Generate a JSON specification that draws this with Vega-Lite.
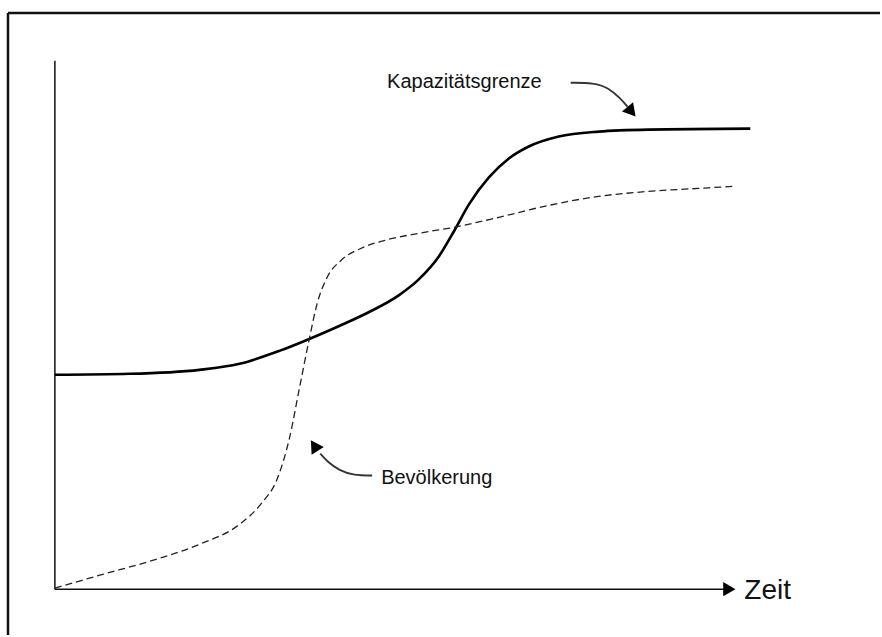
{
  "$schema": "https://vega.github.io/schema/vega-lite/v6.json",
  "autosize": {"type": "fit", "contains": "padding"},
  "width": 882,
  "height": 637,
  "padding": 0,
  "background": "white",
  "config": {"view": {"stroke": null}},
  "datasets": {
    "kurven": [
      {"reihe": "Kapazitätsgrenze", "zeit": 0, "wert": 215},
      {"reihe": "Kapazitätsgrenze", "zeit": 75, "wert": 216},
      {"reihe": "Kapazitätsgrenze", "zeit": 145, "wert": 220},
      {"reihe": "Kapazitätsgrenze", "zeit": 185, "wert": 226},
      {"reihe": "Kapazitätsgrenze", "zeit": 225, "wert": 239},
      {"reihe": "Kapazitätsgrenze", "zeit": 255, "wert": 251},
      {"reihe": "Kapazitätsgrenze", "zeit": 285, "wert": 264},
      {"reihe": "Kapazitätsgrenze", "zeit": 315, "wert": 278},
      {"reihe": "Kapazitätsgrenze", "zeit": 345, "wert": 295},
      {"reihe": "Kapazitätsgrenze", "zeit": 365, "wert": 311},
      {"reihe": "Kapazitätsgrenze", "zeit": 385, "wert": 334},
      {"reihe": "Kapazitätsgrenze", "zeit": 400, "wert": 359},
      {"reihe": "Kapazitätsgrenze", "zeit": 415, "wert": 386},
      {"reihe": "Kapazitätsgrenze", "zeit": 435, "wert": 413},
      {"reihe": "Kapazitätsgrenze", "zeit": 455, "wert": 432},
      {"reihe": "Kapazitätsgrenze", "zeit": 475, "wert": 444},
      {"reihe": "Kapazitätsgrenze", "zeit": 505, "wert": 454},
      {"reihe": "Kapazitätsgrenze", "zeit": 545, "wert": 459},
      {"reihe": "Kapazitätsgrenze", "zeit": 595, "wert": 461},
      {"reihe": "Kapazitätsgrenze", "zeit": 697, "wert": 462},
      {"reihe": "Bevölkerung", "zeit": 0, "wert": 1},
      {"reihe": "Bevölkerung", "zeit": 45, "wert": 14},
      {"reihe": "Bevölkerung", "zeit": 95, "wert": 28},
      {"reihe": "Bevölkerung", "zeit": 145, "wert": 45},
      {"reihe": "Bevölkerung", "zeit": 185, "wert": 65},
      {"reihe": "Bevölkerung", "zeit": 207, "wert": 86},
      {"reihe": "Bevölkerung", "zeit": 223, "wert": 111},
      {"reihe": "Bevölkerung", "zeit": 235, "wert": 151},
      {"reihe": "Bevölkerung", "zeit": 245, "wert": 201},
      {"reihe": "Bevölkerung", "zeit": 255, "wert": 251},
      {"reihe": "Bevölkerung", "zeit": 263, "wert": 287},
      {"reihe": "Bevölkerung", "zeit": 273, "wert": 313},
      {"reihe": "Bevölkerung", "zeit": 287, "wert": 330},
      {"reihe": "Bevölkerung", "zeit": 307, "wert": 342},
      {"reihe": "Bevölkerung", "zeit": 335, "wert": 351},
      {"reihe": "Bevölkerung", "zeit": 365, "wert": 357},
      {"reihe": "Bevölkerung", "zeit": 400, "wert": 363},
      {"reihe": "Bevölkerung", "zeit": 445, "wert": 373},
      {"reihe": "Bevölkerung", "zeit": 495, "wert": 385},
      {"reihe": "Bevölkerung", "zeit": 545, "wert": 394},
      {"reihe": "Bevölkerung", "zeit": 595, "wert": 399},
      {"reihe": "Bevölkerung", "zeit": 645, "wert": 402},
      {"reihe": "Bevölkerung", "zeit": 679, "wert": 404}
    ],
    "pfeile": [
      {"pfeil": "K", "ord": 1, "zeit": 517, "wert": 508},
      {"pfeil": "K", "ord": 2, "zeit": 540, "wert": 508},
      {"pfeil": "K", "ord": 3, "zeit": 555, "wert": 503},
      {"pfeil": "K", "ord": 4, "zeit": 567, "wert": 492},
      {"pfeil": "K", "ord": 5, "zeit": 574, "wert": 484},
      {"pfeil": "B", "ord": 1, "zeit": 318, "wert": 114},
      {"pfeil": "B", "ord": 2, "zeit": 300, "wert": 114},
      {"pfeil": "B", "ord": 3, "zeit": 285, "wert": 119},
      {"pfeil": "B", "ord": 4, "zeit": 273, "wert": 128},
      {"pfeil": "B", "ord": 5, "zeit": 266, "wert": 136}
    ],
    "spitzen": [
      {"zeit": 578, "wert": 479, "winkel": 140, "groesse": 210},
      {"zeit": 260, "wert": 144, "winkel": -33, "groesse": 210},
      {"zeit": 676, "wert": 0, "winkel": 90, "groesse": 200}
    ],
    "texte": [
      {"text": "Kapazitätsgrenze", "zeit": 333, "wert": 509, "groesse": 20},
      {"text": "Bevölkerung", "zeit": 327, "wert": 111, "groesse": 20},
      {"text": "Zeit", "zeit": 691, "wert": -2, "groesse": 28}
    ],
    "linien": [
      {"zeit": 0, "zeit2": 0, "wert": 0, "wert2": 530, "breite": 1.5},
      {"zeit": 0, "zeit2": 670, "wert": 0, "wert2": 0, "breite": 1.5},
      {"zeit": -47, "zeit2": 827, "wert": 578, "wert2": 578, "breite": 2.5},
      {"zeit": -47, "zeit2": -47, "wert": -46, "wert2": 578, "breite": 2.5}
    ]
  },
  "layer": [
    {
      "data": {"name": "linien"},
      "mark": {"type": "rule", "color": "#111111"},
      "encoding": {
        "x": {"field": "zeit", "type": "quantitative", "scale": {"domain": [-55, 827], "nice": false, "zero": false}, "axis": null},
        "x2": {"field": "zeit2"},
        "y": {"field": "wert", "type": "quantitative", "scale": {"domain": [-46, 591], "nice": false, "zero": false}, "axis": null},
        "y2": {"field": "wert2"},
        "strokeWidth": {"field": "breite", "type": "quantitative", "scale": null}
      }
    },
    {
      "data": {"name": "kurven"},
      "transform": [{"filter": "datum.reihe === 'Kapazitätsgrenze'"}],
      "mark": {"type": "line", "color": "#000000", "strokeWidth": 2.6, "interpolate": "monotone"},
      "encoding": {
        "x": {"field": "zeit", "type": "quantitative", "scale": {"domain": [-55, 827], "nice": false, "zero": false}, "axis": null},
        "y": {"field": "wert", "type": "quantitative", "scale": {"domain": [-46, 591], "nice": false, "zero": false}, "axis": null}
      }
    },
    {
      "data": {"name": "kurven"},
      "transform": [{"filter": "datum.reihe === 'Bevölkerung'"}],
      "mark": {"type": "line", "color": "#222222", "strokeWidth": 1.3, "strokeDash": [7, 4], "interpolate": "monotone"},
      "encoding": {
        "x": {"field": "zeit", "type": "quantitative", "scale": {"domain": [-55, 827], "nice": false, "zero": false}, "axis": null},
        "y": {"field": "wert", "type": "quantitative", "scale": {"domain": [-46, 591], "nice": false, "zero": false}, "axis": null}
      }
    },
    {
      "data": {"name": "pfeile"},
      "mark": {"type": "line", "color": "#333333", "strokeWidth": 1.8, "interpolate": "basis"},
      "encoding": {
        "x": {"field": "zeit", "type": "quantitative", "scale": {"domain": [-55, 827], "nice": false, "zero": false}, "axis": null},
        "y": {"field": "wert", "type": "quantitative", "scale": {"domain": [-46, 591], "nice": false, "zero": false}, "axis": null},
        "detail": {"field": "pfeil"},
        "order": {"field": "ord"}
      }
    },
    {
      "data": {"name": "spitzen"},
      "mark": {"type": "point", "shape": "triangle-up", "filled": true, "color": "#000000", "opacity": 1},
      "encoding": {
        "x": {"field": "zeit", "type": "quantitative", "scale": {"domain": [-55, 827], "nice": false, "zero": false}, "axis": null},
        "y": {"field": "wert", "type": "quantitative", "scale": {"domain": [-46, 591], "nice": false, "zero": false}, "axis": null},
        "angle": {"field": "winkel", "type": "quantitative", "scale": null},
        "size": {"field": "groesse", "type": "quantitative", "scale": null}
      }
    },
    {
      "data": {"name": "texte"},
      "mark": {"type": "text", "align": "left", "baseline": "middle", "font": "Liberation Sans", "color": "#111111"},
      "encoding": {
        "x": {"field": "zeit", "type": "quantitative", "scale": {"domain": [-55, 827], "nice": false, "zero": false}, "axis": null},
        "y": {"field": "wert", "type": "quantitative", "scale": {"domain": [-46, 591], "nice": false, "zero": false}, "axis": null},
        "text": {"field": "text"},
        "size": {"field": "groesse", "type": "quantitative", "scale": null}
      }
    }
  ]
}
